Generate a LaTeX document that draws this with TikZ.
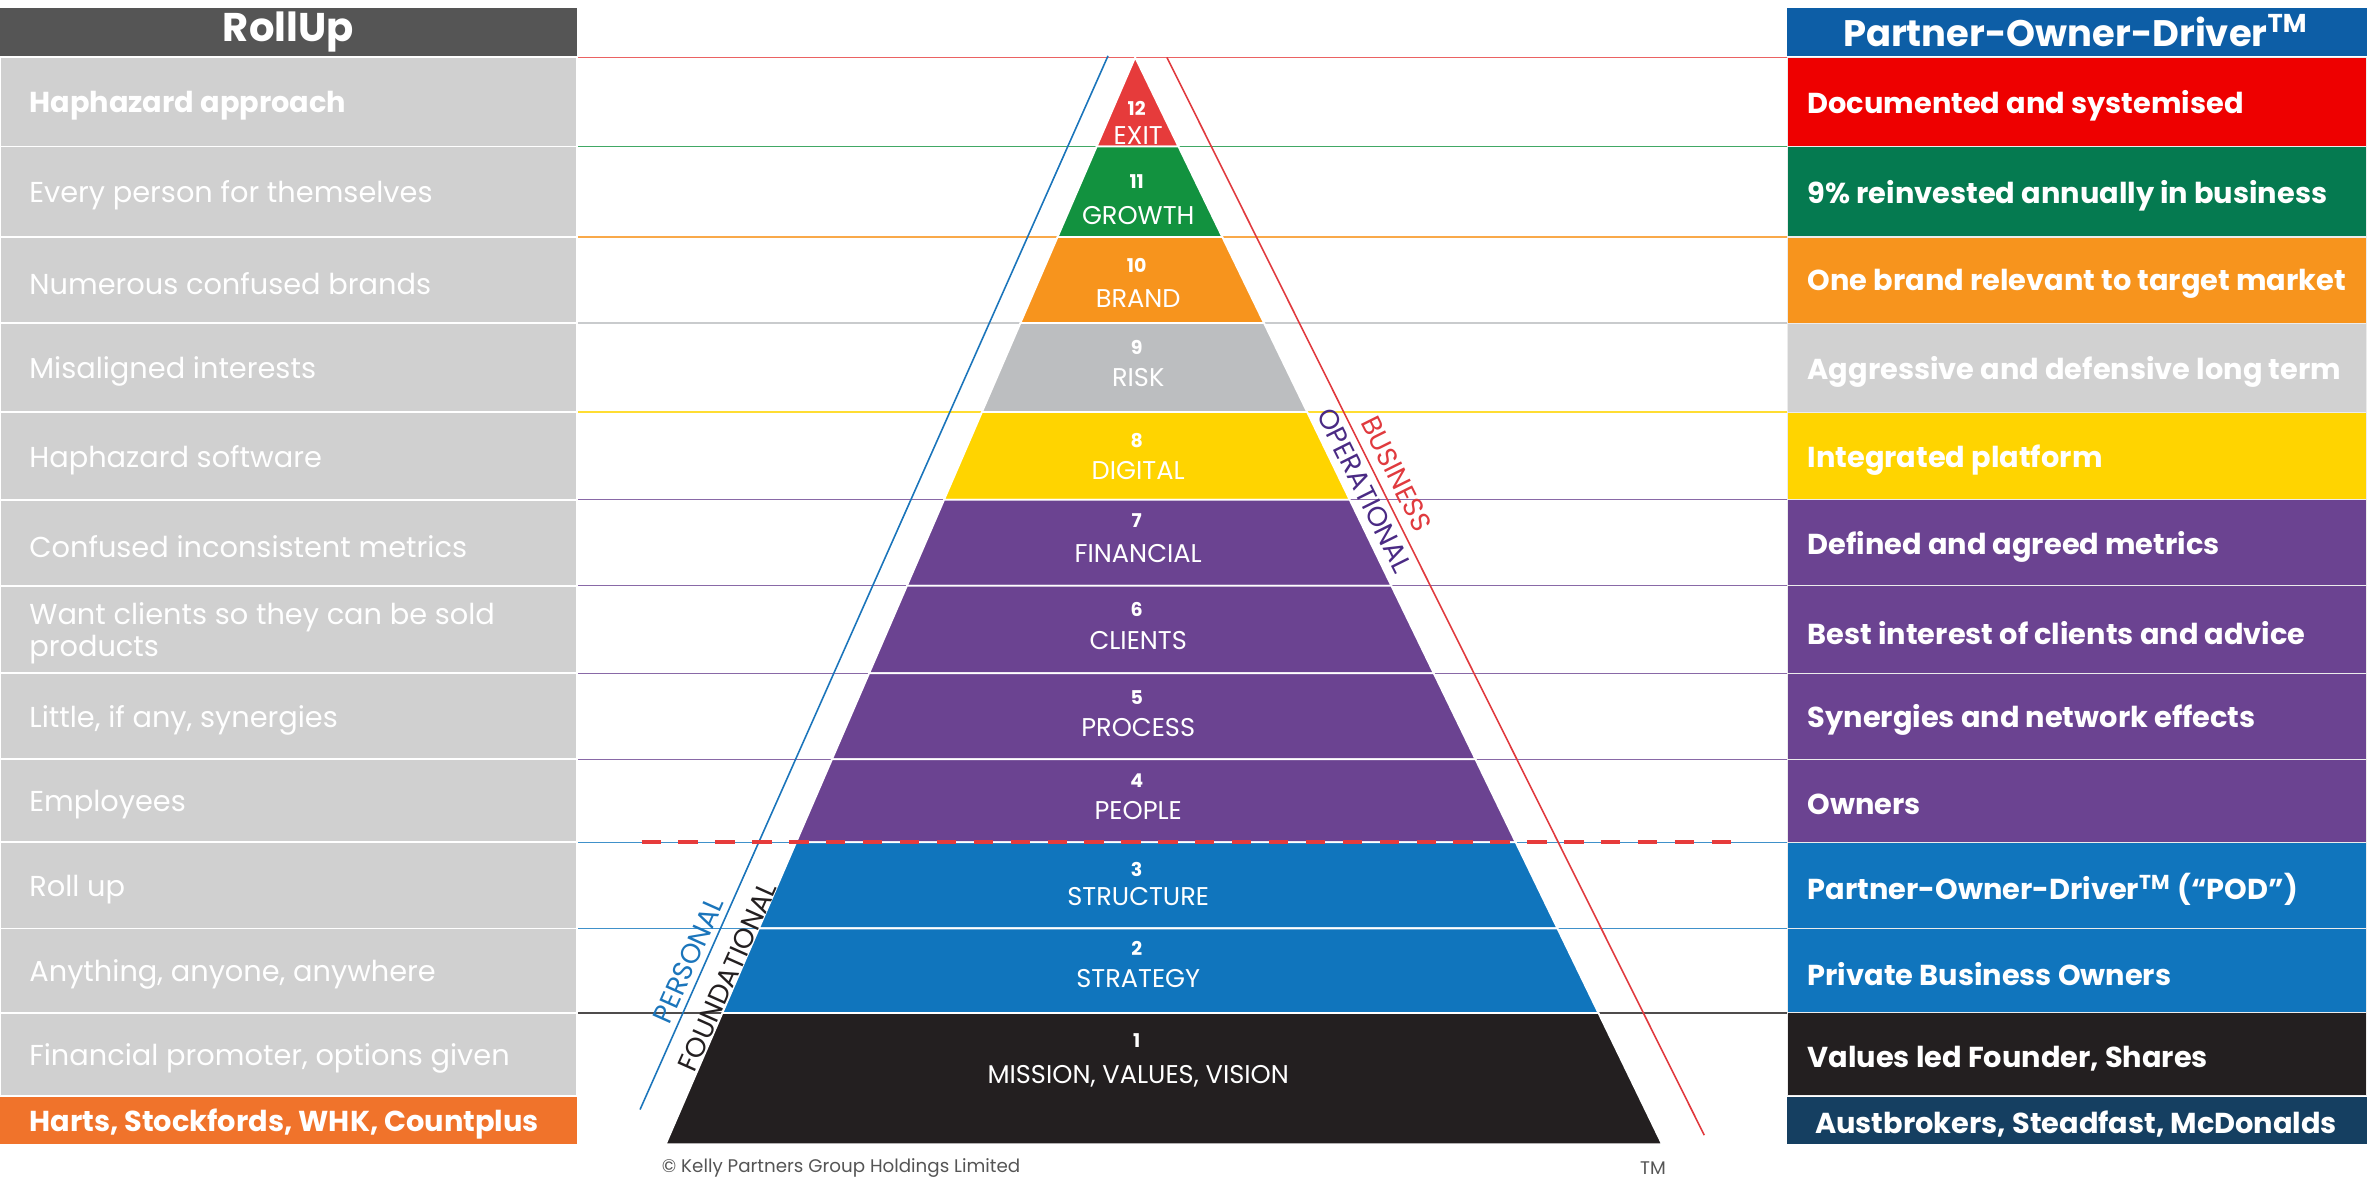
\documentclass[tikz,border=0pt]{standalone}
\usepackage{fontspec}
\setmainfont{Poppins}
\usetikzlibrary{calc}

\definecolor{headGrey}{HTML}{555555}
\definecolor{cellGrey}{HTML}{D0D0D0}
\definecolor{rollOrange}{HTML}{F0732B}
\definecolor{podBlue}{HTML}{0D5EA6}
\definecolor{podNavy}{HTML}{153F61}
\definecolor{lvRed}{HTML}{E63B3B}
\definecolor{rowRed}{HTML}{EE0000}
\definecolor{lvGreen}{HTML}{12923F}
\definecolor{rowGreen}{HTML}{057A50}
\definecolor{lvOrange}{HTML}{F7941D}
\definecolor{lvGrey}{HTML}{BCBEC0}
\definecolor{rowGrey}{HTML}{D1D1D1}
\definecolor{lvYellow}{HTML}{FFD400}
\definecolor{lvPurple}{HTML}{6B4391}
\definecolor{lvBlue}{HTML}{1075BD}
\definecolor{lvBlack}{HTML}{231F20}
\definecolor{sideBlue}{HTML}{1B75BB}
\definecolor{sideRed}{HTML}{E03A3E}
\definecolor{sidePurple}{HTML}{4A2A84}

\begin{document}
\begin{tikzpicture}[x=0.15096mm, y=-0.15096mm, line cap=butt, line join=miter]

% ---------------- styles ----------------
\tikzset{
  head/.style={inner sep=0pt, text=white, font=\fontsize{10.5}{12}\selectfont\bfseries},
  rowtext/.style={anchor=west, inner sep=0pt, yshift=-1.1pt, text=white, align=left, font=\fontsize{8.2}{9}\selectfont},
  podtext/.style={rowtext, font=\fontsize{8.2}{9}\selectfont\bfseries},
  cell/.style={draw=white, line width=0.5pt},
  level/.style={draw=white, line width=0.5pt},
  lvnum/.style={inner sep=0pt, text=white, font=\fontsize{5.4}{6}\selectfont\bfseries},
  lvname/.style={inner sep=0pt, text=white, font=\fontsize{7.3}{8}\selectfont},
  guide/.style={line width=0.4pt},
  slant/.style={line width=0.45pt},
  side/.style={inner sep=0pt, font=\fontsize{7.8}{8}\selectfont},
  split/.style={draw=lvRed, line width=1.1pt, dash pattern=on 5.5pt off 5pt},
  note/.style={inner sep=0pt, text=headGrey, font=\fontsize{5.2}{6}\selectfont}
}

% frame
\useasboundingbox (0,0) rectangle (1568,790);

% ---------------- pyramid geometry ----------------
\coordinate (A) at (752,38);    % apex
\coordinate (BL) at (441,758);  % base left
\coordinate (BR) at (1101,758); % base right

% ---------------- guide lines between the columns ----------------
\foreach \y/\col in {38/lvRed, 97/lvGreen, 157/lvOrange, 214/lvGrey, 273/lvYellow,
  331/lvPurple, 388/lvPurple, 446/lvPurple, 503/lvPurple, 558/lvBlue, 615/lvBlue, 671/lvBlack}
  \draw[guide, \col!80] (382,\y) -- (1184,\y);

% slanted personal / business lines
\coordinate (PT) at (734,37);
\coordinate (PB) at (424,735);
\coordinate (BT) at (773,38);
\coordinate (BB) at (1129,752);
\draw[slant, sideBlue] (PT) -- (PB);
\draw[slant, sideRed] (BT) -- (BB);

% ---------------- RollUp column ----------------
\fill[headGrey] (0,5) rectangle (382,37);
\node[head, font=\fontsize{11.4}{12}\selectfont\bfseries] (rollHead) at (191,21) {RollUp};

\foreach \ya/\yb/\txt [count=\k] in {
  38/97/{\bfseries Haphazard approach},
  97/157/{Every person for themselves},
  157/214/{Numerous confused brands},
  214/273/{Misaligned interests},
  273/331/{Haphazard software},
  331/388/{Confused inconsistent metrics},
  388/446/{Want clients so they can be sold\\products},
  446/503/{Little, if any, synergies},
  503/558/{Employees},
  558/615/{Roll up},
  615/671/{Anything, anyone, anywhere},
  671/726/{Financial promoter, options given}}
{
  \filldraw[cell, fill=cellGrey] (0,\ya) rectangle (382,\yb);
  \node[rowtext] (roll\k) at (19,{(\ya+\yb)/2}) {\txt};
}

\fill[rollOrange] (0,727) rectangle (382,758);
\node[podtext] (rollFoot) at (19,742) {Harts, Stockfords, WHK, Countplus};

% ---------------- Partner-Owner-Driver column ----------------
\fill[podBlue] (1184,5) rectangle (1568,37);
\node[head] (podHead) at (1375,20) {Partner-Owner-Driver\textsuperscript{TM}};

\foreach \ya/\yb/\col/\txt [count=\k] in {
  38/97/rowRed/{Documented and systemised},
  97/157/rowGreen/{9\% reinvested annually in business},
  157/214/lvOrange/{One brand relevant to target market},
  214/273/rowGrey/{Aggressive and defensive long term},
  273/331/lvYellow/{Integrated platform},
  331/388/lvPurple/{Defined and agreed metrics},
  388/446/lvPurple/{Best interest of clients and advice},
  446/503/lvPurple/{Synergies and network effects},
  503/558/lvPurple/{Owners},
  558/615/lvBlue/{Partner-Owner-Driver\textsuperscript{TM} (“POD”)},
  615/671/lvBlue/{Private Business Owners},
  671/726/lvBlack/{Values led Founder, Shares}}
{
  \filldraw[cell, draw=white!85!gray, line width=0.3pt, fill=\col] (1184,\ya) rectangle (1568,\yb);
  \node[podtext] (pod\k) at (1197,{(\ya+\yb)/2}) {\txt};
}

\fill[podNavy] (1184,727) rectangle (1568,758);
\node[podtext] (podFoot) at (1202,742) {Austbrokers, Steadfast, McDonalds};

% ---------------- pyramid levels ----------------
\foreach \ya/\yb/\col/\yn/\ym/\num/\name in {
  38/97/lvRed/72/90/12/EXIT,
  97/157/lvGreen/120/143/11/GROWTH,
  157/214/lvOrange/176/198/10/BRAND,
  214/273/lvGrey/230/250/9/RISK,
  273/331/lvYellow/292/312/8/DIGITAL,
  331/388/lvPurple/345/367/7/FINANCIAL,
  388/446/lvPurple/404/424/6/CLIENTS,
  446/503/lvPurple/462/482/5/PROCESS,
  503/558/lvPurple/517/537/4/PEOPLE,
  558/615/lvBlue/576/594/3/STRUCTURE,
  615/671/lvBlue/628/648/2/STRATEGY,
  671/758/lvBlack/689/713/1/{MISSION, VALUES, VISION}}
{
  \pgfmathsetmacro\ta{(\ya-38)/720}
  \pgfmathsetmacro\tb{(\yb-38)/720}
  \filldraw[level, fill=\col] ($(A)!\ta!(BL)$) -- ($(A)!\ta!(BR)$)
    -- ($(A)!\tb!(BR)$) -- ($(A)!\tb!(BL)$) -- cycle;
  \node[lvnum] (num\num) at (753,\yn) {\num};
  \node[lvname] (lv\num) at (754,\ym) {\name};
}

% personal / business split
\draw[split] (425,558) -- (1148,558);

% ---------------- side labels ----------------
\node[side, text=sideBlue, rotate=66] (personal) at (456,636) {PERSONAL};
\node[side, text=lvBlack, rotate=66] (foundational) at (482,647) {FOUNDATIONAL};
\node[side, text=sideRed, rotate=-63.5] (business) at (925,314) {BUSINESS};
\node[side, text=sidePurple, rotate=-63.5] (operational) at (904,325) {OPERATIONAL};

% ---------------- footer ----------------
\node[note, anchor=west] (copyright) at (438,774) {© Kelly Partners Group Holdings Limited};
\node[note] (tm) at (1095,774) {TM};

\end{tikzpicture}
\end{document}
